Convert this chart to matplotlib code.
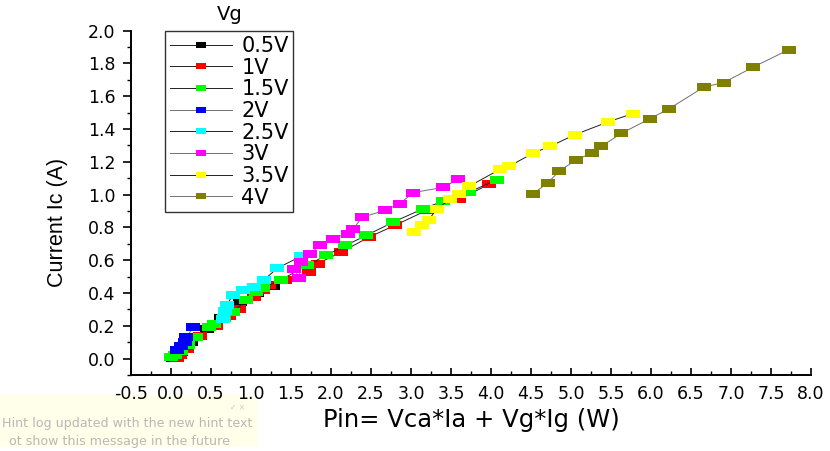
import matplotlib
matplotlib.use("Agg")
import matplotlib.pyplot as plt
from matplotlib.patches import Rectangle
from matplotlib.ticker import MultipleLocator, FormatStrFormatter

labels = ["0.5V", "1V", "1.5V", "2V", "2.5V", "3V", "3.5V", "4V"]
colors = ["#000000", "#FF0000", "#00FF00", "#0000FF", "#00FFFF", "#FF00FF", "#FFFF00", "#808000"]
line_colors = ["#202020", "#202020", "#202020", "#707070", "#202020", "#707070", "#202020", "#707070"]

x_05 = [0.03, 0.12, 0.25, 0.45, 0.62, 0.86, 1.07, 1.27]
y_05 = [0.005, 0.04, 0.10, 0.18, 0.25, 0.345, 0.40, 0.445]

x_1 = [0.08, 0.11, 0.20, 0.36, 0.565, 0.72, 0.85, 1.04, 1.15, 1.22, 1.42, 1.73, 1.835, 2.13, 2.48, 2.80, 3.20, 3.60, 3.97]
y_1 = [0.005, 0.02, 0.06, 0.14, 0.20, 0.26, 0.30, 0.375, 0.416, 0.446, 0.477, 0.528, 0.58, 0.65, 0.742, 0.813, 0.905, 0.971, 1.062]

x_15 = [0.00, 0.05, 0.12, 0.21, 0.31, 0.48, 0.54, 0.66, 0.77, 0.94, 1.06, 1.15, 1.38, 1.70, 1.94, 2.18, 2.44, 2.78, 3.15, 3.40, 3.73, 4.08]
y_15 = [0.01, 0.02, 0.045, 0.085, 0.13, 0.19, 0.21, 0.25, 0.283, 0.355, 0.405, 0.432, 0.481, 0.569, 0.63, 0.69, 0.751, 0.833, 0.914, 0.96, 1.017, 1.091]

x_2 = [0.08, 0.13, 0.17, 0.19, 0.28]
y_2 = [0.05, 0.075, 0.10, 0.13, 0.19]

x_25 = [0.65, 0.68, 0.70, 0.77, 0.90, 1.04, 1.16, 1.33, 1.63]
y_25 = [0.24, 0.29, 0.33, 0.385, 0.416, 0.434, 0.479, 0.552, 0.625]

x_3 = [1.54, 1.60, 1.62, 1.74, 1.86, 2.02, 2.21, 2.28, 2.39, 2.68, 2.86, 3.03, 3.40, 3.59]
y_3 = [0.548, 0.493, 0.589, 0.640, 0.691, 0.732, 0.763, 0.793, 0.862, 0.905, 0.946, 1.013, 1.044, 1.093]

x_35 = [3.04, 3.14, 3.22, 3.32, 3.49, 3.60, 3.73, 4.11, 4.23, 4.53, 4.74, 5.05, 5.46, 5.77]
y_35 = [0.772, 0.813, 0.844, 0.913, 0.971, 1.003, 1.052, 1.154, 1.174, 1.254, 1.295, 1.366, 1.443, 1.494]

x_4 = [4.52, 4.71, 4.85, 5.065, 5.265, 5.38, 5.63, 5.99, 6.23, 6.66, 6.91, 7.27, 7.72]
y_4 = [1.003, 1.072, 1.142, 1.213, 1.254, 1.295, 1.374, 1.464, 1.525, 1.656, 1.684, 1.776, 1.884]

xs = [x_05, x_1, x_15, x_2, x_25, x_3, x_35, x_4]
ys = [y_05, y_1, y_15, y_2, y_25, y_3, y_35, y_4]

plt.rcParams['font.family'] = ['DejaVu Sans']

fig = plt.figure(figsize=(8.30, 4.51), dpi=100)
ax = fig.add_axes([131/830, 1 - 375/451, 680/830, 344.3/451])

rect_marker = [(-0.75, -0.5), (0.75, -0.5), (0.75, 0.5), (-0.75, 0.5), (-0.75, -0.5)]

for x, y, c, lc, lab in zip(xs, ys, colors, line_colors, labels):
    ax.plot(x, y, color=lc, lw=0.7, marker=rect_marker, markersize=9.5,
            markerfacecolor=c, markeredgecolor=c, markeredgewidth=0, label=lab)

ax.set_xlim(-0.5, 8.0)
ax.set_ylim(-0.1, 2.0)
ax.xaxis.set_major_locator(MultipleLocator(0.5))
ax.xaxis.set_minor_locator(MultipleLocator(0.25))
ax.yaxis.set_major_locator(MultipleLocator(0.2))
ax.yaxis.set_minor_locator(MultipleLocator(0.1))
ax.xaxis.set_major_formatter(FormatStrFormatter('%.1f'))
ax.yaxis.set_major_formatter(FormatStrFormatter('%.1f'))

for s in ['top', 'right']:
    ax.spines[s].set_visible(False)
for s in ['left', 'bottom']:
    ax.spines[s].set_linewidth(1.4)

ax.tick_params(axis='x', which='major', direction='in', length=5, width=1.2, pad=7, labelsize=12.5)
ax.tick_params(axis='x', which='minor', direction='in', length=3, width=1.0)
ax.tick_params(axis='y', which='major', direction='out', length=6, width=1.2, pad=5, labelsize=12.5)
ax.tick_params(axis='y', which='minor', direction='out', length=3, width=1.0)

ax.set_xlabel("Pin= Vca*Ia + Vg*Ig (W)", fontsize=17.5, labelpad=4)
ax.set_ylabel("Current Ic (A)", fontsize=15.5,
              family=['Liberation Sans', 'DejaVu Sans'])
ax.yaxis.set_label_coords(-0.092, 0.444)

leg = ax.legend(loc='upper left', bbox_to_anchor=(0.05, 0.998), borderaxespad=0,
                fontsize=15, frameon=True, fancybox=False, edgecolor='black',
                handlelength=3.0, handletextpad=0.45, labelspacing=0.08,
                borderpad=0.22, markerscale=0.75)
leg.get_frame().set_linewidth(1.0)

fig.text(230/830, 1 - 15/451, "Vg", ha='center', va='center', fontsize=14)

# screenshot hint box
fig.add_artist(Rectangle((0, 4/451), 258/830, 52/451, transform=fig.transFigure,
                         facecolor='#FFFFEA', edgecolor='none', zorder=0))
fig.text(2/830, 1 - 423/451, "Hint log updated with the new hint text", ha='left',
         va='center', fontsize=9.1, color='#B8B8B8')
fig.text(9/830, 1 - 441/451, "ot show this message in the future", ha='left',
         va='center', fontsize=9.1, color='#B8B8B8')
fig.text(238/830, 1 - 407/451, "\u2713 \u00d7", ha='center', va='center', fontsize=5.5, color='#C8C8C8')

fig.savefig("out.png", dpi=100)
